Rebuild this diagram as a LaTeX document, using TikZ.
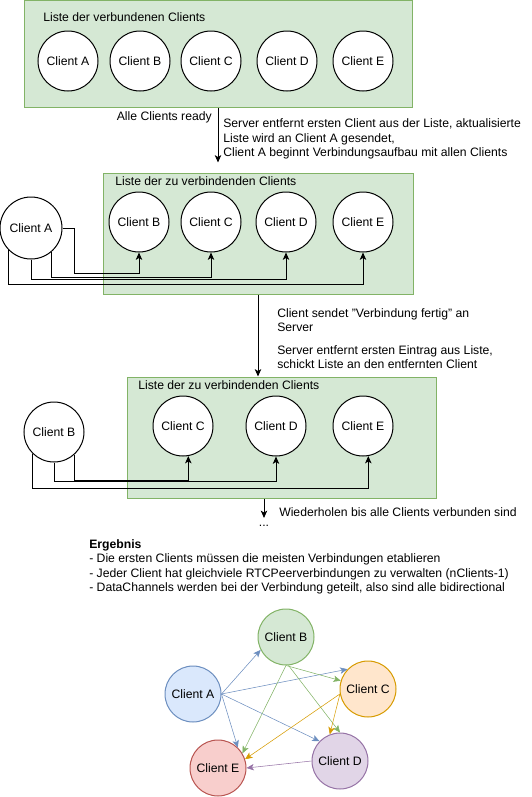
\documentclass[tikz,border=0pt]{standalone}
\usepackage{fontspec}
\setmainfont{Liberation Sans}
\usepackage{xcolor}
\usetikzlibrary{arrows.meta,positioning,calc}

\definecolor{boxfill}{HTML}{D5E8D4}
\definecolor{boxline}{HTML}{82B366}
\definecolor{blueline}{HTML}{6C8EBF}
\definecolor{bluefill}{HTML}{DAE8FC}
\definecolor{greenline}{HTML}{82B366}
\definecolor{greenfill}{HTML}{D5E8D4}
\definecolor{orangeline}{HTML}{D79B00}
\definecolor{orangefill}{HTML}{FFE6CC}
\definecolor{purpleline}{HTML}{9673A6}
\definecolor{purplefill}{HTML}{E1D5E7}
\definecolor{redline}{HTML}{B85450}
\definecolor{redfill}{HTML}{F8CECC}

\tikzset{
  client/.style={circle, draw, fill=white, line width=0.75pt, minimum size=45pt, inner sep=0pt},
  peer/.style={circle, draw=#1line, fill=#1fill, line width=0.75pt, minimum size=42pt, inner sep=0pt},
  listbox/.style={draw=boxline, fill=boxfill, line width=0.75pt, inner sep=0pt},
  link/.style={->, line width=0.75pt},
  note/.style={inner sep=0pt, align=left}
}

\begin{document}
\begin{tikzpicture}[x=0.75pt,y=-0.75pt,on grid,>={Stealth[length=5.5pt,width=4.8pt,inset=1.4pt]},font=\fontsize{9.15}{10.9}\selectfont]
  \useasboundingbox (0,0) rectangle (532,797);

  % Liste der verbundenen Clients
  \node[listbox, minimum width=291pt, minimum height=80.25pt] (list1) at (218,54) {};
  \node[note, anchor=west] (t1) at (43,17.5) {Liste der verbundenen Clients};
  \node[client] (a1) at (68,61) {Client A};
  \node[client] (b1) [right=54pt of a1] {Client B};
  \node[client] (c1) [right=53.25pt of b1] {Client C};
  \node[client] (d1) [right=57pt of c1] {Client D};
  \node[client] (e1) [right=57pt of d1] {Client E};

  % Schritt 1
  \node[listbox, minimum width=232.5pt, minimum height=90.75pt] (list2) at (258,233.5) {};
  \node[note, anchor=west] (t2) at (115,181) {Liste der zu verbindenden Clients};
  \node[client, minimum size=46.5pt] (a2) at (31,228) {Client A};
  \node[client] (b2) at (139,222) {Client B};
  \node[client] (c2) [right=54pt of b2] {Client C};
  \node[client] (d2) [right=56.25pt of c2] {Client D};
  \node[client] (e2) [right=57.75pt of d2] {Client E};

  \draw[link, shorten >=7.5pt] (list1.south) -- (list1.south |- list2.north);
  \node[note, anchor=east] (ready) at (212,117) {Alle Clients ready};
  \node[note, anchor=west] (step1) at (223,139) {Server entfernt ersten Client aus der Liste, aktualisierte\\Liste wird an Client A gesendet,\\Client A beginnt Verbindungsaufbau mit allen Clients};

  \draw[link] (a2.east) -- ++(12,0) |- ($(b2.south)+(0,21)$) -- (b2.south);
  \draw[link] (a2.-50) |- ($(c2.south)+(0,25)$) -- (c2.south);
  \draw[link] (a2.south) |- ($(d2.south)+(0,27)$) -- (d2.south);
  \draw[link] (a2.-135) |- ($(e2.south)+(0,32)$) -- (e2.south);

  % Schritt 2
  \node[listbox, minimum width=231.75pt, minimum height=90.75pt] (list3) at (281.5,437.5) {};
  \node[note, anchor=west] (t3) at (138,385) {Liste der zu verbindenden Clients};
  \node[client] (b3) at (54,432) {Client B};
  \node[client] (c3) at (183,426) {Client C};
  \node[client] (d3) [right=69.75pt of c3] {Client D};
  \node[client] (e3) [right=65.25pt of d3] {Client E};

  \draw[link] (list2.south) -- (list2.south |- list3.north);
  \node[note, anchor=west] (done) at (277,320) {Client sendet "Verbindung fertig" an\\Server};
  \node[note, anchor=west] (step2) at (277,357) {Server entfernt ersten Eintrag aus Liste,\\schickt Liste an den entfernten Client};

  \draw[link] (b3.-48) |- ($(c3.-80)+(0,24.5)$) -- (c3.-80);
  \draw[link] (b3.south) |- ($(d3.south)+(0,25)$) -- (d3.south);
  \draw[link] (b3.-135) |- ($(e3.-80)+(0,32.5)$) -- (e3.-80);

  % Wiederholen
  \coordinate (rep) at (264,518);
  \draw[link] (list3.south -| rep) -- (rep);
  \node[note, anchor=west] (again) at (279,512) {Wiederholen bis alle Clients verbunden sind};
  \node[note] (more) at (264,526) {...};

  % Ergebnis
  \node[note, anchor=west] (result) at (89,567) {\textbf{Ergebnis}\\- Die ersten Clients müssen die meisten Verbindungen etablieren\\- Jeder Client hat gleichviele RTCPeerverbindungen zu verwalten (nClients-1)\\- DataChannels werden bei der Verbindung geteilt, also sind alle bidirectional};

  \node[peer=blue] (pa) at (193,694) {Client A};
  \node[peer=green] (pb) at (286,637) {Client B};
  \node[peer=orange] (pc) at (368,689) {Client C};
  \node[peer=purple] (pd) at (340,761) {Client D};
  \node[peer=red] (pe) at (218,768) {Client E};

  \draw[->, blueline] (pa.east) -- (pb.207);
  \draw[->, blueline] (pa.east) -- (pc.136);
  \draw[->, blueline] (pa.east) -- (pd.136);
  \draw[->, blueline] (pa.east) -- (pe.46);
  \draw[->, greenline] (pb.south) -- (pc.163);
  \draw[->, greenline] (pb.-85) -- (pd.north);
  \draw[->, greenline] (pb.south) -- (pe.31);
  \draw[->, orangeline] (pc.190) -- (pd.111);
  \draw[->, orangeline] (pc.190) -- (pe.18);
  \draw[->, purpleline] (pd.west) -- (pe.east);
\end{tikzpicture}
\end{document}
